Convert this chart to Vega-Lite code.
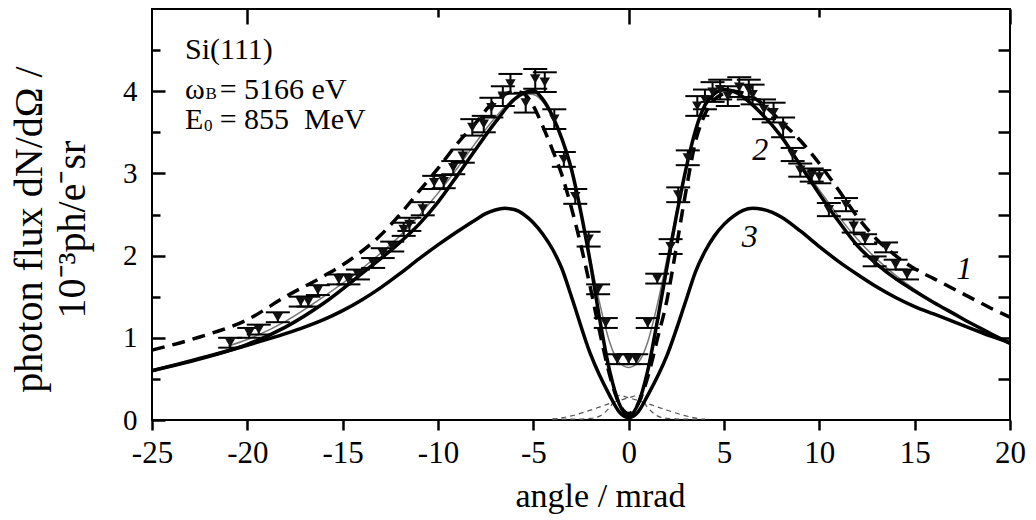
{
  "$schema": "https://vega.github.io/schema/vega-lite/v6.json",
  "width": 858,
  "height": 411,
  "autosize": "none",
  "padding": {"left": 152, "top": 9, "right": 26, "bottom": 100},
  "background": "white",
  "config": {
    "view": {"stroke": "black", "strokeWidth": 2},
    "font": "Liberation Serif"
  },
  "resolve": {"axis": {"x": "independent", "y": "independent"}},
  "datasets": {
    "curves": [
      {"c": "gA", "x": -4, "y": 0.01}, {"c": "gA", "x": -3, "y": 0.05}, {"c": "gA", "x": -2, "y": 0.12}, {"c": "gA", "x": -1, "y": 0.2}, {"c": "gA", "x": 0, "y": 0.27}, {"c": "gA", "x": 0.5, "y": 0.3}, {"c": "gA", "x": 1, "y": 0.15}, {"c": "gA", "x": 1.5, "y": 0.05}, {"c": "gA", "x": 2, "y": 0.02}, {"c": "gA", "x": 3, "y": 0.01}, {"c": "gA", "x": 4, "y": 0.01},
      {"c": "gB", "x": -4, "y": 0.01}, {"c": "gB", "x": -3, "y": 0.01}, {"c": "gB", "x": -2, "y": 0.02}, {"c": "gB", "x": -1.5, "y": 0.05}, {"c": "gB", "x": -1, "y": 0.15}, {"c": "gB", "x": -0.5, "y": 0.3}, {"c": "gB", "x": 0, "y": 0.27}, {"c": "gB", "x": 1, "y": 0.2}, {"c": "gB", "x": 2, "y": 0.12}, {"c": "gB", "x": 3, "y": 0.05}, {"c": "gB", "x": 3.8, "y": 0.01},
      {"c": "1", "x": -25, "y": 0.85}, {"c": "1", "x": -22.5, "y": 1.01}, {"c": "1", "x": -20, "y": 1.22}, {"c": "1", "x": -18, "y": 1.5}, {"c": "1", "x": -16, "y": 1.75}, {"c": "1", "x": -14.6, "y": 1.95}, {"c": "1", "x": -13, "y": 2.25}, {"c": "1", "x": -12, "y": 2.5}, {"c": "1", "x": -11, "y": 2.78}, {"c": "1", "x": -10, "y": 3.06}, {"c": "1", "x": -9, "y": 3.36}, {"c": "1", "x": -8, "y": 3.62}, {"c": "1", "x": -7.3, "y": 3.82}, {"c": "1", "x": -6.5, "y": 3.96}, {"c": "1", "x": -6, "y": 4.0}, {"c": "1", "x": -5.5, "y": 3.97}, {"c": "1", "x": -5, "y": 3.82}, {"c": "1", "x": -4.5, "y": 3.57}, {"c": "1", "x": -4, "y": 3.29}, {"c": "1", "x": -3.5, "y": 2.98}, {"c": "1", "x": -3, "y": 2.58}, {"c": "1", "x": -2.5, "y": 2.12}, {"c": "1", "x": -2, "y": 1.6}, {"c": "1", "x": -1.5, "y": 1.05}, {"c": "1", "x": -1, "y": 0.55}, {"c": "1", "x": -0.5, "y": 0.2}, {"c": "1", "x": 0, "y": 0.08}, {"c": "1", "x": 0.5, "y": 0.2}, {"c": "1", "x": 1, "y": 0.52}, {"c": "1", "x": 1.5, "y": 0.98}, {"c": "1", "x": 2, "y": 1.45}, {"c": "1", "x": 2.5, "y": 2.1}, {"c": "1", "x": 3, "y": 2.78}, {"c": "1", "x": 3.5, "y": 3.38}, {"c": "1", "x": 4, "y": 3.72}, {"c": "1", "x": 4.5, "y": 3.9}, {"c": "1", "x": 5, "y": 3.97}, {"c": "1", "x": 5.5, "y": 4.0}, {"c": "1", "x": 6, "y": 3.98}, {"c": "1", "x": 6.5, "y": 3.93}, {"c": "1", "x": 7, "y": 3.85}, {"c": "1", "x": 8, "y": 3.63}, {"c": "1", "x": 9, "y": 3.4}, {"c": "1", "x": 10, "y": 3.12}, {"c": "1", "x": 11, "y": 2.8}, {"c": "1", "x": 12, "y": 2.47}, {"c": "1", "x": 13, "y": 2.2}, {"c": "1", "x": 14, "y": 2.0}, {"c": "1", "x": 15, "y": 1.84}, {"c": "1", "x": 16, "y": 1.72}, {"c": "1", "x": 17, "y": 1.6}, {"c": "1", "x": 18, "y": 1.48}, {"c": "1", "x": 19, "y": 1.36}, {"c": "1", "x": 20, "y": 1.25},
      {"c": "2", "x": -25, "y": 0.6}, {"c": "2", "x": -23, "y": 0.71}, {"c": "2", "x": -21, "y": 0.84}, {"c": "2", "x": -20, "y": 0.92}, {"c": "2", "x": -18, "y": 1.13}, {"c": "2", "x": -16, "y": 1.42}, {"c": "2", "x": -14, "y": 1.78}, {"c": "2", "x": -12, "y": 2.16}, {"c": "2", "x": -11, "y": 2.38}, {"c": "2", "x": -10, "y": 2.65}, {"c": "2", "x": -9, "y": 2.97}, {"c": "2", "x": -8, "y": 3.3}, {"c": "2", "x": -7, "y": 3.62}, {"c": "2", "x": -6, "y": 3.9}, {"c": "2", "x": -5.5, "y": 3.98}, {"c": "2", "x": -5, "y": 4.01}, {"c": "2", "x": -4.5, "y": 3.9}, {"c": "2", "x": -4, "y": 3.7}, {"c": "2", "x": -3.5, "y": 3.42}, {"c": "2", "x": -3, "y": 3.05}, {"c": "2", "x": -2.5, "y": 2.52}, {"c": "2", "x": -2, "y": 1.9}, {"c": "2", "x": -1.5, "y": 1.2}, {"c": "2", "x": -1, "y": 0.6}, {"c": "2", "x": -0.5, "y": 0.2}, {"c": "2", "x": 0, "y": 0.05}, {"c": "2", "x": 0.5, "y": 0.2}, {"c": "2", "x": 1, "y": 0.6}, {"c": "2", "x": 1.5, "y": 1.2}, {"c": "2", "x": 2, "y": 1.85}, {"c": "2", "x": 2.5, "y": 2.48}, {"c": "2", "x": 3, "y": 3.05}, {"c": "2", "x": 3.5, "y": 3.52}, {"c": "2", "x": 4, "y": 3.83}, {"c": "2", "x": 4.5, "y": 3.97}, {"c": "2", "x": 5, "y": 4.02}, {"c": "2", "x": 5.5, "y": 4.0}, {"c": "2", "x": 6, "y": 3.93}, {"c": "2", "x": 7, "y": 3.72}, {"c": "2", "x": 8, "y": 3.45}, {"c": "2", "x": 9, "y": 3.1}, {"c": "2", "x": 10, "y": 2.75}, {"c": "2", "x": 11, "y": 2.42}, {"c": "2", "x": 12, "y": 2.12}, {"c": "2", "x": 13, "y": 1.9}, {"c": "2", "x": 14, "y": 1.72}, {"c": "2", "x": 15, "y": 1.57}, {"c": "2", "x": 16, "y": 1.43}, {"c": "2", "x": 17, "y": 1.3}, {"c": "2", "x": 18, "y": 1.17}, {"c": "2", "x": 19, "y": 1.05}, {"c": "2", "x": 20, "y": 0.93},
      {"c": "3", "x": -25, "y": 0.6}, {"c": "3", "x": -22, "y": 0.78}, {"c": "3", "x": -20, "y": 0.91}, {"c": "3", "x": -18, "y": 1.05}, {"c": "3", "x": -17, "y": 1.13}, {"c": "3", "x": -16, "y": 1.22}, {"c": "3", "x": -15, "y": 1.33}, {"c": "3", "x": -14, "y": 1.46}, {"c": "3", "x": -13, "y": 1.61}, {"c": "3", "x": -12, "y": 1.78}, {"c": "3", "x": -11, "y": 1.96}, {"c": "3", "x": -10, "y": 2.13}, {"c": "3", "x": -9, "y": 2.29}, {"c": "3", "x": -8, "y": 2.44}, {"c": "3", "x": -7.5, "y": 2.51}, {"c": "3", "x": -7, "y": 2.555}, {"c": "3", "x": -6.5, "y": 2.575}, {"c": "3", "x": -6, "y": 2.56}, {"c": "3", "x": -5.5, "y": 2.5}, {"c": "3", "x": -5, "y": 2.4}, {"c": "3", "x": -4.5, "y": 2.26}, {"c": "3", "x": -4, "y": 2.08}, {"c": "3", "x": -3.5, "y": 1.84}, {"c": "3", "x": -3, "y": 1.5}, {"c": "3", "x": -2, "y": 0.8}, {"c": "3", "x": -1, "y": 0.3}, {"c": "3", "x": -0.5, "y": 0.1}, {"c": "3", "x": 0, "y": 0.03}, {"c": "3", "x": 0.5, "y": 0.1}, {"c": "3", "x": 1, "y": 0.3}, {"c": "3", "x": 2, "y": 0.78}, {"c": "3", "x": 3, "y": 1.45}, {"c": "3", "x": 3.5, "y": 1.8}, {"c": "3", "x": 4, "y": 2.05}, {"c": "3", "x": 4.5, "y": 2.24}, {"c": "3", "x": 5, "y": 2.38}, {"c": "3", "x": 5.5, "y": 2.48}, {"c": "3", "x": 6, "y": 2.55}, {"c": "3", "x": 6.5, "y": 2.575}, {"c": "3", "x": 7, "y": 2.565}, {"c": "3", "x": 7.5, "y": 2.53}, {"c": "3", "x": 8, "y": 2.47}, {"c": "3", "x": 9, "y": 2.3}, {"c": "3", "x": 10, "y": 2.11}, {"c": "3", "x": 11, "y": 1.93}, {"c": "3", "x": 12, "y": 1.77}, {"c": "3", "x": 13, "y": 1.62}, {"c": "3", "x": 14, "y": 1.49}, {"c": "3", "x": 15, "y": 1.38}, {"c": "3", "x": 16, "y": 1.29}, {"c": "3", "x": 17, "y": 1.2}, {"c": "3", "x": 18, "y": 1.11}, {"c": "3", "x": 19, "y": 1.02}, {"c": "3", "x": 20, "y": 0.94},
      {"c": "fit", "x": -21, "y": 0.9}, {"c": "fit", "x": -20, "y": 0.98}, {"c": "fit", "x": -18, "y": 1.2}, {"c": "fit", "x": -16, "y": 1.5}, {"c": "fit", "x": -14, "y": 1.84}, {"c": "fit", "x": -12, "y": 2.24}, {"c": "fit", "x": -10, "y": 2.76}, {"c": "fit", "x": -9, "y": 3.06}, {"c": "fit", "x": -8, "y": 3.38}, {"c": "fit", "x": -7, "y": 3.68}, {"c": "fit", "x": -6, "y": 3.91}, {"c": "fit", "x": -5.5, "y": 3.97}, {"c": "fit", "x": -5, "y": 3.96}, {"c": "fit", "x": -4.5, "y": 3.87}, {"c": "fit", "x": -4, "y": 3.68}, {"c": "fit", "x": -3.5, "y": 3.4}, {"c": "fit", "x": -3, "y": 3.02}, {"c": "fit", "x": -2.5, "y": 2.52}, {"c": "fit", "x": -2, "y": 1.95}, {"c": "fit", "x": -1.5, "y": 1.4}, {"c": "fit", "x": -1, "y": 0.95}, {"c": "fit", "x": -0.5, "y": 0.7}, {"c": "fit", "x": 0, "y": 0.64}, {"c": "fit", "x": 0.5, "y": 0.7}, {"c": "fit", "x": 1, "y": 0.95}, {"c": "fit", "x": 1.5, "y": 1.4}, {"c": "fit", "x": 2, "y": 1.95}, {"c": "fit", "x": 2.5, "y": 2.52}, {"c": "fit", "x": 3, "y": 3.05}, {"c": "fit", "x": 3.5, "y": 3.5}, {"c": "fit", "x": 4, "y": 3.82}, {"c": "fit", "x": 4.5, "y": 3.96}, {"c": "fit", "x": 5, "y": 4.0}, {"c": "fit", "x": 5.5, "y": 3.98}, {"c": "fit", "x": 6, "y": 3.92}, {"c": "fit", "x": 7, "y": 3.72}, {"c": "fit", "x": 8, "y": 3.45}, {"c": "fit", "x": 9, "y": 3.12}, {"c": "fit", "x": 10, "y": 2.8}, {"c": "fit", "x": 11, "y": 2.48}, {"c": "fit", "x": 12, "y": 2.2}, {"c": "fit", "x": 13, "y": 1.96}, {"c": "fit", "x": 14, "y": 1.76}, {"c": "fit", "x": 15, "y": 1.59}, {"c": "fit", "x": 16, "y": 1.43}, {"c": "fit", "x": 16.9, "y": 1.3}
    ],
    "points": [
      {"x": -20.9, "y": 0.94, "lo": 0.88, "hi": 1.0}, {"x": -19.9, "y": 1.06, "lo": 1.0, "hi": 1.12}, {"x": -19.4, "y": 1.1, "lo": 1.04, "hi": 1.16}, {"x": -18.4, "y": 1.25, "lo": 1.19, "hi": 1.31}, {"x": -17.2, "y": 1.44, "lo": 1.38, "hi": 1.5}, {"x": -16.8, "y": 1.44, "lo": 1.38, "hi": 1.5}, {"x": -16.3, "y": 1.58, "lo": 1.52, "hi": 1.64}, {"x": -15.2, "y": 1.71, "lo": 1.65, "hi": 1.77}, {"x": -14.7, "y": 1.71, "lo": 1.65, "hi": 1.77}, {"x": -14.2, "y": 1.77, "lo": 1.71, "hi": 1.83}, {"x": -13.4, "y": 1.91, "lo": 1.85, "hi": 1.97}, {"x": -12.9, "y": 2.03, "lo": 1.97, "hi": 2.09}, {"x": -12.4, "y": 2.11, "lo": 2.05, "hi": 2.17}, {"x": -11.8, "y": 2.32, "lo": 2.24, "hi": 2.4}, {"x": -11.5, "y": 2.38, "lo": 2.3, "hi": 2.46}, {"x": -10.8, "y": 2.57, "lo": 2.49, "hi": 2.65}, {"x": -10.2, "y": 2.89, "lo": 2.81, "hi": 2.97}, {"x": -9.7, "y": 2.9, "lo": 2.82, "hi": 2.98}, {"x": -9.2, "y": 3.07, "lo": 2.99, "hi": 3.15}, {"x": -8.7, "y": 3.21, "lo": 3.13, "hi": 3.29}, {"x": -8.2, "y": 3.56, "lo": 3.46, "hi": 3.66}, {"x": -7.6, "y": 3.6, "lo": 3.5, "hi": 3.7}, {"x": -7.2, "y": 3.8, "lo": 3.68, "hi": 3.92}, {"x": -6.6, "y": 3.94, "lo": 3.82, "hi": 4.06}, {"x": -6.2, "y": 4.09, "lo": 3.97, "hi": 4.21}, {"x": -5.4, "y": 3.86, "lo": 3.74, "hi": 3.98}, {"x": -4.9, "y": 4.15, "lo": 4.03, "hi": 4.27}, {"x": -4.4, "y": 4.11, "lo": 3.99, "hi": 4.23}, {"x": -3.9, "y": 3.66, "lo": 3.54, "hi": 3.78}, {"x": -3.4, "y": 3.17, "lo": 3.08, "hi": 3.26}, {"x": -2.8, "y": 2.72, "lo": 2.63, "hi": 2.81}, {"x": -2.1, "y": 2.2, "lo": 2.11, "hi": 2.29}, {"x": -1.6, "y": 1.59, "lo": 1.53, "hi": 1.65}, {"x": -1.2, "y": 1.18, "lo": 1.12, "hi": 1.24}, {"x": -0.6, "y": 0.74, "lo": 0.68, "hi": 0.8}, {"x": 0.0, "y": 0.74, "lo": 0.68, "hi": 0.8}, {"x": 0.4, "y": 0.74, "lo": 0.68, "hi": 0.8}, {"x": 1.0, "y": 1.18, "lo": 1.12, "hi": 1.24}, {"x": 1.5, "y": 1.72, "lo": 1.66, "hi": 1.78}, {"x": 2.2, "y": 2.11, "lo": 2.02, "hi": 2.2}, {"x": 2.6, "y": 2.74, "lo": 2.65, "hi": 2.83}, {"x": 3.1, "y": 3.19, "lo": 3.1, "hi": 3.28}, {"x": 3.6, "y": 3.82, "lo": 3.7, "hi": 3.94}, {"x": 4.0, "y": 3.9, "lo": 3.78, "hi": 4.02}, {"x": 4.4, "y": 3.99, "lo": 3.87, "hi": 4.11}, {"x": 4.8, "y": 4.02, "lo": 3.9, "hi": 4.14}, {"x": 5.2, "y": 3.94, "lo": 3.82, "hi": 4.06}, {"x": 5.8, "y": 4.05, "lo": 3.93, "hi": 4.17}, {"x": 6.3, "y": 4.02, "lo": 3.9, "hi": 4.14}, {"x": 6.5, "y": 3.96, "lo": 3.84, "hi": 4.08}, {"x": 7.1, "y": 3.78, "lo": 3.66, "hi": 3.9}, {"x": 7.6, "y": 3.74, "lo": 3.62, "hi": 3.86}, {"x": 8.1, "y": 3.56, "lo": 3.44, "hi": 3.68}, {"x": 8.6, "y": 3.23, "lo": 3.15, "hi": 3.31}, {"x": 9.0, "y": 3.04, "lo": 2.96, "hi": 3.12}, {"x": 9.6, "y": 2.98, "lo": 2.9, "hi": 3.06}, {"x": 10.0, "y": 2.96, "lo": 2.88, "hi": 3.04}, {"x": 10.5, "y": 2.56, "lo": 2.48, "hi": 2.64}, {"x": 11.4, "y": 2.62, "lo": 2.54, "hi": 2.7}, {"x": 11.8, "y": 2.36, "lo": 2.28, "hi": 2.44}, {"x": 12.4, "y": 2.2, "lo": 2.14, "hi": 2.26}, {"x": 12.9, "y": 1.93, "lo": 1.87, "hi": 1.99}, {"x": 13.5, "y": 2.1, "lo": 2.04, "hi": 2.16}, {"x": 14.0, "y": 1.89, "lo": 1.83, "hi": 1.95}, {"x": 14.6, "y": 1.77, "lo": 1.71, "hi": 1.83}
    ],
    "curveLabels": [
      {"t": "1", "x": 17.6, "y": 1.84},
      {"t": "2", "x": 6.9, "y": 3.28},
      {"t": "3", "x": 6.35, "y": 2.23}
    ],
    "notes": [
      {"t": "Si(111)", "x": -23.27, "y": 4.39},
      {"t": "ω", "x": -23.27, "y": 3.902},
      {"t": "= 5166 eV", "x": -21.45, "y": 3.902},
      {"t": "E", "x": -23.27, "y": 3.537},
      {"t": "= 855\u00a0\u00a0MeV", "x": -21.45, "y": 3.537}
    ],
    "subs": [
      {"t": "B", "x": -22.2, "y": 3.902},
      {"t": "0", "x": -22.27, "y": 3.51}
    ]
  },
  "layer": [
    {
      "data": {"name": "curves"},
      "transform": [{"filter": "datum.c === 'gA' || datum.c === 'gB'"}],
      "mark": {"type": "line", "color": "#555555", "strokeWidth": 1.2, "strokeDash": [5, 4], "interpolate": "monotone"},
      "encoding": {
        "x": {"field": "x", "type": "quantitative", "scale": {"domain": [-25, 20], "nice": false, "zero": false}, "axis": null},
        "y": {"field": "y", "type": "quantitative", "scale": {"domain": [0, 5], "nice": false}, "axis": null},
        "detail": {"field": "c"}
      }
    },
    {
      "data": {"name": "curves"},
      "transform": [{"filter": "datum.c === 'fit'"}],
      "mark": {"type": "line", "color": "#777777", "strokeWidth": 1.5, "interpolate": "monotone"},
      "encoding": {
        "x": {"field": "x", "type": "quantitative", "axis": null},
        "y": {"field": "y", "type": "quantitative", "axis": null}
      }
    },
    {
      "data": {"name": "curves"},
      "transform": [{"filter": "datum.c === '1'"}],
      "mark": {"type": "line", "color": "black", "strokeWidth": 3.5, "strokeDash": [13, 8], "interpolate": "monotone"},
      "encoding": {
        "x": {"field": "x", "type": "quantitative", "axis": null},
        "y": {"field": "y", "type": "quantitative", "axis": null}
      }
    },
    {
      "data": {"name": "curves"},
      "transform": [{"filter": "datum.c === '3'"}],
      "mark": {"type": "line", "color": "black", "strokeWidth": 3.5, "interpolate": "monotone"},
      "encoding": {
        "x": {
          "field": "x", "type": "quantitative",
          "axis": {
            "orient": "top", "values": [-20, -10, 0, 10, 20], "labels": false, "domain": false, "grid": false, "title": null,
            "tickColor": "black", "tickWidth": 2.5,
            "tickSize": {"condition": {"test": "datum.value % 20 === 0", "value": -15}, "value": -8}
          }
        },
        "y": {
          "field": "y", "type": "quantitative",
          "axis": {
            "orient": "right", "values": [0.5, 1, 1.5, 2, 2.5, 3, 3.5, 4, 4.5], "labels": false, "domain": false, "grid": false, "title": null,
            "tickColor": "black", "tickWidth": 2.5, "tickSize": -12
          }
        }
      }
    },
    {
      "data": {"name": "curves"},
      "transform": [{"filter": "datum.c === '2'"}],
      "mark": {"type": "line", "color": "black", "strokeWidth": 3.5, "interpolate": "monotone"},
      "encoding": {
        "x": {
          "field": "x", "type": "quantitative",
          "axis": {
            "orient": "bottom", "values": [-25, -20, -15, -10, -5, 0, 5, 10, 15, 20], "domain": false, "grid": false,
            "ticks": true, "tickWidth": 2.5, "tickSize": 10, "tickColor": "black",
            "labelPadding": 8,
            "labelExpr": "'' + datum.value", "labelFont": "Liberation Serif", "labelFontSize": 31, "labelColor": "black",
            "labelFlush": false, "labelOverlap": false, "labelBound": false,
            "title": "angle / mrad", "titleFont": "Liberation Serif", "titleFontSize": 34, "titleFontWeight": "normal", "titleColor": "black",
            "titleX": 448, "titleY": 86, "titleBaseline": "alphabetic", "titleAlign": "center"
          }
        },
        "y": {
          "field": "y", "type": "quantitative",
          "axis": {
            "orient": "left", "values": [0, 0.5, 1, 1.5, 2, 2.5, 3, 3.5, 4, 4.5], "domain": false, "grid": false,
            "tickColor": "black", "tickWidth": 2.5,
            "tickSize": {"condition": {"test": "datum.value % 1 === 0", "value": -13}, "value": -8},
            "labelExpr": "datum.value % 1 === 0 ? '' + datum.value : ''", "labelFont": "Liberation Serif", "labelFontSize": 29, "labelColor": "black",
            "labelPadding": 28, "labelFlush": false, "labelOverlap": false, "labelBound": false, "labelBaseline": "middle",
            "title": ["photon flux dN/dΩ /", "10⁻³ph/e⁻sr"], "titleFont": "Liberation Serif", "titleFontSize": 40, "titleFontWeight": "normal", "titleColor": "black",
            "titleLineHeight": 43, "titleX": -111, "titleY": 220, "titleBaseline": "alphabetic", "titleAlign": "center", "titleAngle": 270
          }
        }
      }
    },
    {
      "data": {"name": "points"},
      "mark": {"type": "rule", "color": "black", "strokeWidth": 2},
      "encoding": {
        "x": {"field": "x", "type": "quantitative", "axis": null},
        "y": {"field": "lo", "type": "quantitative", "axis": null},
        "y2": {"field": "hi"}
      }
    },
    {
      "data": {"name": "points"},
      "mark": {"type": "tick", "orient": "horizontal", "color": "black", "size": 24, "thickness": 2, "opacity": 1},
      "encoding": {
        "x": {"field": "x", "type": "quantitative", "axis": null},
        "y": {"field": "lo", "type": "quantitative", "axis": null}
      }
    },
    {
      "data": {"name": "points"},
      "mark": {"type": "tick", "orient": "horizontal", "color": "black", "size": 24, "thickness": 2, "opacity": 1},
      "encoding": {
        "x": {"field": "x", "type": "quantitative", "axis": null},
        "y": {"field": "hi", "type": "quantitative", "axis": null}
      }
    },
    {
      "data": {"name": "points"},
      "mark": {"type": "point", "shape": "triangle-down", "filled": true, "size": 110, "color": "#111111", "opacity": 1},
      "encoding": {
        "x": {"field": "x", "type": "quantitative", "axis": null},
        "y": {"field": "y", "type": "quantitative", "axis": null}
      }
    },
    {
      "data": {"name": "curveLabels"},
      "mark": {"type": "text", "font": "Liberation Serif", "fontSize": 32, "fontStyle": "italic", "color": "black", "align": "center", "baseline": "middle"},
      "encoding": {
        "x": {"field": "x", "type": "quantitative", "axis": null},
        "y": {"field": "y", "type": "quantitative", "axis": null},
        "text": {"field": "t"}
      }
    },
    {
      "data": {"name": "notes"},
      "mark": {"type": "text", "font": "Liberation Serif", "fontSize": 30, "color": "black", "align": "left", "baseline": "alphabetic"},
      "encoding": {
        "x": {"field": "x", "type": "quantitative", "axis": null},
        "y": {"field": "y", "type": "quantitative", "axis": null},
        "text": {"field": "t"}
      }
    },
    {
      "data": {"name": "subs"},
      "mark": {"type": "text", "font": "Liberation Serif", "fontSize": 17, "color": "black", "align": "left", "baseline": "alphabetic"},
      "encoding": {
        "x": {"field": "x", "type": "quantitative", "axis": null},
        "y": {"field": "y", "type": "quantitative", "axis": null},
        "text": {"field": "t"}
      }
    }
  ]
}
